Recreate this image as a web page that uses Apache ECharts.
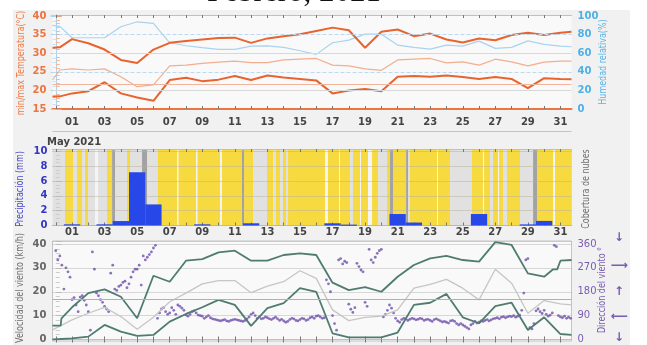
<!DOCTYPE html>
<html>
<head>
<meta charset="utf-8">
<script src="https://cdn.jsdelivr.net/npm/echarts@6/dist/echarts.min.js"></script>
<style>
html,body{margin:0;padding:0;background:#fff}
#main{width:647px;height:345px}
</style>
</head>
<body>
<div id="main"></div>
<script>
// dias del mes (eje x)
var tickDays = [0,1,2,3,4,5,6,7,8,9,10,11,12,13,14,15,16,17,18,19,20,21,22,23,24,25,26,27,28,29,30,31]
var labelDays = [1,3,5,7,9,11,13,15,17,19,21,23,25,27,29,31]

// temperatura / humedad
var tempDays = [-0.2,0.25,1,2,3,4,5,6,7,8,9,10,11,12,13,14,15,16,17,18,19,20,21,22,23,24,25,26,27,28,29,30,31,31.68]
var tMax = [31.5,31.6,33.8,32.7,31.0,28.2,27.4,31.0,32.8,33.3,33.7,34.1,34.2,32.8,34.0,34.6,35.1,36.0,36.9,36.2,31.5,35.8,36.4,34.6,35.3,33.7,32.9,34.0,33.5,34.9,35.5,34.9,35.5,35.8]
var tMin = [18.3,18.4,19.2,19.8,22.2,19.2,18.1,17.2,22.8,23.4,22.5,22.9,23.9,22.8,24.0,23.5,23.1,22.7,19.2,20.0,20.4,19.8,23.7,23.9,23.7,24.0,23.6,23.1,23.6,23.1,20.6,23.3,23.1,23.0]
var tMean = [22.8,25.5,25.8,25.5,25.8,23.7,21.0,21.5,26.6,26.8,27.3,27.6,27.9,27.5,27.5,28.2,28.4,28.6,26.8,26.6,25.8,25.4,28.2,28.4,28.6,27.4,27.7,26.8,28.4,27.7,26.6,27.6,27.9,27.9]
var humidity = [90,89,76.7,76.7,76.7,88.5,93.9,92.1,71.3,68.1,66,64.2,64.2,67.7,68,66.3,62.7,58.8,71.3,74.2,80.6,80.6,68.8,66.3,64.5,68.8,67.7,73.1,65.3,66.3,73.4,69.5,67.7,67]

// precipitacion diaria (mm)
var precipDays = [1,3,4,5,6,9,12,17,18,21,22,26,29,30]
var precipMm = [0.16,0.16,0.6,7.2,2.85,0.16,0.3,0.3,0.12,1.55,0.4,1.55,0.15,0.62]

// cobertura de nubes: [desde, hasta, tipo] tipo 0 blanco, 1 despejado, 2 parcial, 3 nublado
var cloudBands = [
  [-0.2,0.57,2],[0.57,1.06,1],[1.06,1.31,2],[1.31,1.61,1],[1.61,1.80,2],[1.80,1.98,1],[1.98,2.41,2],[2.41,2.60,0],
  [2.60,3.15,2],[3.15,3.46,1],[3.46,3.64,3],[3.64,4.38,2],[4.38,4.56,1],[4.56,5.30,2],[5.30,5.61,3],[5.61,6.28,2],
  [6.28,7.45,1],[7.45,7.54,0],[7.54,8.62,1],[8.62,8.71,0],[8.71,10.09,1],[10.09,10.21,0],[10.21,11.44,1],[11.44,11.57,3],
  [11.57,12.12,1],[12.12,12.98,2],[12.98,13.35,1],[13.35,13.53,2],[13.53,13.78,1],[13.78,13.96,2],[13.96,14.14,1],[14.14,14.27,2],
  [14.27,16.54,1],[16.54,16.72,0],[16.72,17.40,1],[17.40,17.46,0],[17.46,18.08,1],[18.08,18.26,2],[18.26,18.69,1],[18.69,18.75,0],
  [18.75,19.18,1],[19.18,19.43,0],[19.43,19.80,1],[19.80,20.35,2],[20.35,20.53,1],[20.53,20.72,3],[20.72,21.52,1],[21.52,21.64,3],
  [21.64,21.76,2],[21.76,23.42,1],[23.42,23.48,0],[23.48,24.22,1],[24.22,25.57,2],[25.57,26.24,1],[26.24,26.31,0],[26.31,26.67,1],
  [26.67,26.86,2],[26.86,27.17,1],[27.17,27.23,0],[27.23,27.47,1],[27.47,27.72,2],[27.72,28.52,1],[28.52,29.32,2],[29.32,29.56,3],
  [29.56,30.55,1],[30.55,30.67,0],[30.67,31.68,1]
]
var cloudColors = ['#f4f4f4','#f7d940','#e1e1e1','#a2a2a2']

// viento (km/h)
var gustDays = [-0.2,0.3,0.35,1,2,3,4,5,6,7,8,9,10,11,12,13,14,15,16,17,18,19,20,21,22,23,24,25,26,27,28,29,30,30.55,30.8,31,31.68]
var gustMax = [5.8,5.8,8.9,13.5,19.4,21.0,17.9,8.9,26.7,24.2,33.0,33.7,36.5,37.2,33.0,33.0,35.4,36.1,35.4,23.8,20.7,21.9,20.0,26.3,31.2,34.0,35.0,33.3,32.6,40.8,39.6,27.7,26.3,29.4,29.4,33.0,33.3]
var windDays = [-0.2,1,2,3,4,5,6,7,8,9,10,11,12,13,14,15,16,17,18,19,20,21,22,23,24,25,26,27,28,29,30,31,31.68]
var windMean = [4.0,8.2,11.0,13.5,9.6,4.3,9.3,15.8,19.4,23.3,24.7,24.7,19.6,22.4,24.2,28.8,25.6,12.4,7.9,9.3,9.8,12.4,21.5,23.1,25.2,21.5,16.6,29.4,23.6,11.0,16.3,14.9,14.5]
var windMin = [0,0.5,1.2,6.1,3.3,1.5,1.9,7.5,10.7,13.5,16.6,14.5,5.7,13.1,15.2,21.5,20.0,2.6,0.9,0.9,0.9,2.9,14.5,15.4,19.1,9.3,6.8,14.0,15.4,4.0,9.3,2.3,1.9]

// direccion del viento cada 3 horas, una fila por dia (0..31)
var dirByDay = [
  [335,300,315,280,190,270,255,235],
  [150,158,130,105,160,165,148,130],
  [105,35,330,265,175,165,150,140],
  [125,115,105,250,280,190,185,200],
  [205,215,220,195,210,235,255,265],
  [265,280,205,315,300,310,320,330],
  [345,355,80,100,115,120,105,95],
  [100,120,110,95,130,125,118,110],
  [92,88,95,105,108,100,92,90],
  [88,80,85,90,82,78,76,74],
  [72,70,73,75,70,68,72,74],
  [76,74,72,70,68,72,78,85],
  [95,100,90,80,85,78,80,85],
  [82,78,75,80,84,78,72,76],
  [70,65,68,75,80,78,72,70],
  [75,80,78,72,75,82,85,80],
  [88,90,85,80,82,225,210,180],
  [90,60,35,300,305,285,295,290],
  [133,114,102,120,287,275,262,255],
  [140,125,340,300,290,310,325,335],
  [340,85,95,110,130,118,100,80],
  [70,65,75,80,78,72,76,80],
  [78,74,76,80,78,72,75,76],
  [72,68,75,78,74,70,66,68],
  [65,62,70,72,68,60,55,60],
  [55,50,45,40,55,60,68,62],
  [65,70,68,72,75,70,74,78],
  [80,82,78,84,86,82,85,88],
  [86,90,84,88,92,110,175,300],
  [305,45,40,60,108,115,105,98],
  [110,95,88,92,100,355,350,90],
  [85,82,88,80,84,80]
]

function zip(xs, ys) {
  return xs.map(function (x, i) { return [x, ys[i]] })
}

var dirData = []
dirByDay.forEach(function (row, day) {
  row.forEach(function (v, k) { dirData.push([day + k / 8, v]) })
})

var myChart = echarts.init(document.getElementById('main'))

var font = 'DejaVu Sans'
var X0 = 52.5, W = 519

function xBottom(g, showLabel) {
  return {
    type: 'value', gridIndex: g, min: -0.2, max: 31.68, position: 'bottom',
    splitLine: { show: false },
    axisLine: { show: true, lineStyle: { color: g === 0 ? '#ee7440' : '#b8b8b8', width: g === 0 ? 2 : 1 } },
    axisTick: { show: true, inside: true, length: 3, customValues: tickDays, lineStyle: { color: '#777' } },
    axisLabel: {
      show: showLabel, customValues: labelDays, margin: g === 0 ? 8 : 2,
      formatter: function (v) { return String(v).padStart(2, '0') },
      color: '#444', fontWeight: 'bold', fontSize: 10, fontFamily: font
    }
  }
}
function xTop(g) {
  return {
    type: 'value', gridIndex: g, min: -0.2, max: 31.68, position: 'top',
    splitLine: { show: false },
    axisLine: { show: true, lineStyle: { color: '#c0c0c0' } },
    axisTick: { show: true, inside: true, length: 3, customValues: tickDays, lineStyle: { color: '#777' } },
    axisLabel: { show: false }
  }
}

function vText(text, x, y, color) {
  return {
    type: 'text', x: x, y: y, rotation: Math.PI / 2, scaleY: 1.3,
    style: { text: text, fill: color, font: '8px ' + font, align: 'center', verticalAlign: 'middle' }
  }
}
function arrow(ch, y) {
  return {
    type: 'text', x: 619, y: y,
    style: { text: ch, fill: '#7a5cb0', font: 'bold 12px ' + font, align: 'center', verticalAlign: 'middle' }
  }
}

var option = {
  animation: false,
  backgroundColor: '#fff',
  graphic: {
    elements: [
      { type: 'rect', z: -100, shape: { x: 13, y: 10, width: 617, height: 335 }, style: { fill: '#f1f1f1' } },
      { type: 'rect', z: -100, shape: { x: X0, y: 15, width: W, height: 94 }, style: { fill: '#f9f9f9' } },
      { type: 'rect', z: -100, shape: { x: X0, y: 149, width: W, height: 76.5 }, style: { fill: '#f9f9f9' } },
      { type: 'rect', z: -100, shape: { x: X0, y: 241, width: W, height: 100 }, style: { fill: '#f9f9f9', stroke: '#c4c4c4' } },
      { type: 'line', z: -50, shape: { x1: X0, y1: 131.5, x2: X0 + W, y2: 131.5 }, style: { stroke: '#c4c4c4' } },
      {
        type: 'text', x: 294, y: -7,
        style: { text: 'Febrero, 2021', fill: '#111', font: '31px "Liberation Serif"', align: 'center', verticalAlign: 'middle' }
      },
      {
        type: 'text', x: 47, y: 142,
        style: { text: 'May 2021', fill: '#444', font: 'bold 10px ' + font, align: 'left', verticalAlign: 'middle' }
      },
      vText('min/max Temperatura(°C)', 21, 63, '#ec7a48'),
      vText('Humedad relativa(%)', 603, 62, '#5ab4e6'),
      vText('Precipitación (mm)', 20, 189, '#4848c8'),
      vText('Cobertura de nubes', 586, 189, '#707070'),
      vText('Velocidad del viento (km/h)', 20, 288, '#707070'),
      vText('Dirección del viento °', 602, 290, '#7a5cb0'),
      arrow('↓', 238), arrow('⟶', 266), arrow('↑', 292), arrow('⟵', 317), arrow('↓', 338)
    ]
  },
  grid: [
    { left: X0, top: 15, width: W, height: 94 },
    { left: X0, top: 149, width: W, height: 76.5 },
    { left: X0, top: 241, width: W, height: 98.5 }
  ],
  xAxis: [xBottom(0, true), xTop(0), xBottom(1, true), xTop(1), xBottom(2, false), xTop(2)],
  yAxis: [
    {
      type: 'value', gridIndex: 0, min: 15, max: 40.3, interval: 5, position: 'left',
      splitLine: { show: false },
      axisLine: { show: true, lineStyle: { color: '#f3b79c' } },
      axisTick: { show: true, inside: true, length: 6, lineStyle: { color: '#f0a080' } },
      minorTick: { show: true, splitNumber: 5, length: 4, lineStyle: { color: '#f3b79c' } },
      axisLabel: { color: '#ee7440', fontWeight: 'bold', fontSize: 10, fontFamily: font, margin: 6 }
    },
    {
      type: 'value', gridIndex: 0, min: 0, max: 101.2, interval: 20, position: 'right',
      splitLine: { show: false },
      axisLine: { show: true, lineStyle: { color: '#a9d3ef' } },
      axisTick: { show: true, inside: true, length: 5, lineStyle: { color: '#a9d3ef' } },
      minorTick: { show: true, splitNumber: 4, length: 3, lineStyle: { color: '#c4e0f4' } },
      axisLabel: { color: '#4fb0e8', fontWeight: 'bold', fontSize: 10, fontFamily: font, margin: 6 }
    },
    {
      type: 'value', gridIndex: 1, min: 0, max: 10.34, interval: 2, position: 'left',
      splitLine: { show: true, lineStyle: { color: '#b8b0a0', type: 'dotted' } },
      axisLine: { show: false },
      axisTick: { show: true, inside: true, length: 6, lineStyle: { color: '#bbb' } },
      minorTick: { show: true, splitNumber: 4, length: 4, lineStyle: { color: '#ccc' } },
      axisLabel: { color: '#3535c4', fontWeight: 'bold', fontSize: 10, fontFamily: font, margin: 5 }
    },
    {
      type: 'value', gridIndex: 2, min: 0, max: 41.26, interval: 10, position: 'left',
      splitLine: { show: true, lineStyle: { color: '#b4b4b4', type: 'dotted' } },
      axisLine: { show: false },
      axisTick: { show: true, inside: true, length: 6, lineStyle: { color: '#bbb' } },
      minorTick: { show: true, splitNumber: 5, length: 4, lineStyle: { color: '#ccc' } },
      axisLabel: { color: '#666', fontWeight: 'bold', fontSize: 10, fontFamily: font, margin: 6 }
    },
    {
      type: 'value', gridIndex: 2, min: 0, max: 371.3, interval: 90, position: 'right',
      splitLine: { show: false },
      axisLine: { show: false },
      axisTick: { show: false },
      axisLabel: { color: '#7a5cb0', fontSize: 10, fontFamily: font, margin: 6 }
    }
  ],
  series: [
    {
      type: 'line', xAxisIndex: 0, yAxisIndex: 1, data: zip(tempDays, humidity),
      symbol: 'none', lineStyle: { color: '#a9d3ef', width: 1.2 }, z: 1,
      markLine: {
        silent: true, symbol: 'none', label: { show: false },
        lineStyle: { color: '#bcd9ef', type: 'dashed', width: 1 },
        data: [{ yAxis: 40 }, { yAxis: 80 }]
      }
    },
    {
      type: 'line', xAxisIndex: 0, yAxisIndex: 0, data: zip(tempDays, tMean),
      symbol: 'none', lineStyle: { color: '#f2ae8e', width: 1.2 }, z: 1,
      markLine: {
        silent: true, symbol: 'none', label: { show: false },
        data: [
          { yAxis: 20, lineStyle: { color: '#d8d8d8', type: 'solid', width: 1 } },
          { yAxis: 30, lineStyle: { color: '#d8d8d8', type: 'solid', width: 1 } },
          { yAxis: 21.6, lineStyle: { color: '#f2b49a', type: 'solid', width: 1 } }
        ]
      }
    },
    {
      type: 'line', xAxisIndex: 0, yAxisIndex: 0, data: zip(tempDays, tMax),
      symbol: 'none', lineStyle: { color: '#e8632e', width: 2 }
    },
    {
      type: 'line', xAxisIndex: 0, yAxisIndex: 0, data: zip(tempDays, tMin),
      symbol: 'none', lineStyle: { color: '#e8632e', width: 2 }
    },
    {
      type: 'custom', xAxisIndex: 2, yAxisIndex: 2, z: -1, silent: true,
      data: cloudBands,
      renderItem: function (params, api) {
        var a = api.coord([api.value(0), 0])
        var b = api.coord([api.value(1), 0])
        var cs = params.coordSys
        return {
          type: 'rect',
          shape: { x: a[0], y: cs.y, width: b[0] - a[0] + 0.3, height: cs.height },
          style: { fill: cloudColors[api.value(2)] }
        }
      }
    },
    {
      type: 'custom', xAxisIndex: 2, yAxisIndex: 2, z: 3,
      data: zip(precipDays, precipMm),
      renderItem: function (params, api) {
        var a = api.coord([api.value(0) - 0.5, api.value(1)])
        var b = api.coord([api.value(0) + 0.5, 0])
        return {
          type: 'rect',
          shape: { x: a[0], y: a[1], width: b[0] - a[0], height: Math.max(b[1] - a[1], 1.2) },
          style: { fill: '#2747e8' }
        }
      }
    },
    {
      type: 'line', xAxisIndex: 4, yAxisIndex: 3, data: zip(windDays, windMean),
      symbol: 'none', lineStyle: { color: '#c6c6c6', width: 1.3 },
      markLine: {
        silent: true, symbol: 'none', label: { show: false },
        lineStyle: { color: '#b0b0b0', type: 'solid', width: 1 },
        data: [{ yAxis: 17 }]
      }
    },
    {
      type: 'line', xAxisIndex: 4, yAxisIndex: 3, data: zip(gustDays, gustMax),
      symbol: 'none', lineStyle: { color: '#4f7c70', width: 1.8 }
    },
    {
      type: 'line', xAxisIndex: 4, yAxisIndex: 3, data: zip(windDays, windMin),
      symbol: 'none', lineStyle: { color: '#4f7c70', width: 1.8 }
    },
    {
      type: 'scatter', xAxisIndex: 4, yAxisIndex: 4, data: dirData,
      symbolSize: 2.8, itemStyle: { color: '#6e50aa' }
    }
  ]
}

myChart.setOption(option)
</script>
</body>
</html>
